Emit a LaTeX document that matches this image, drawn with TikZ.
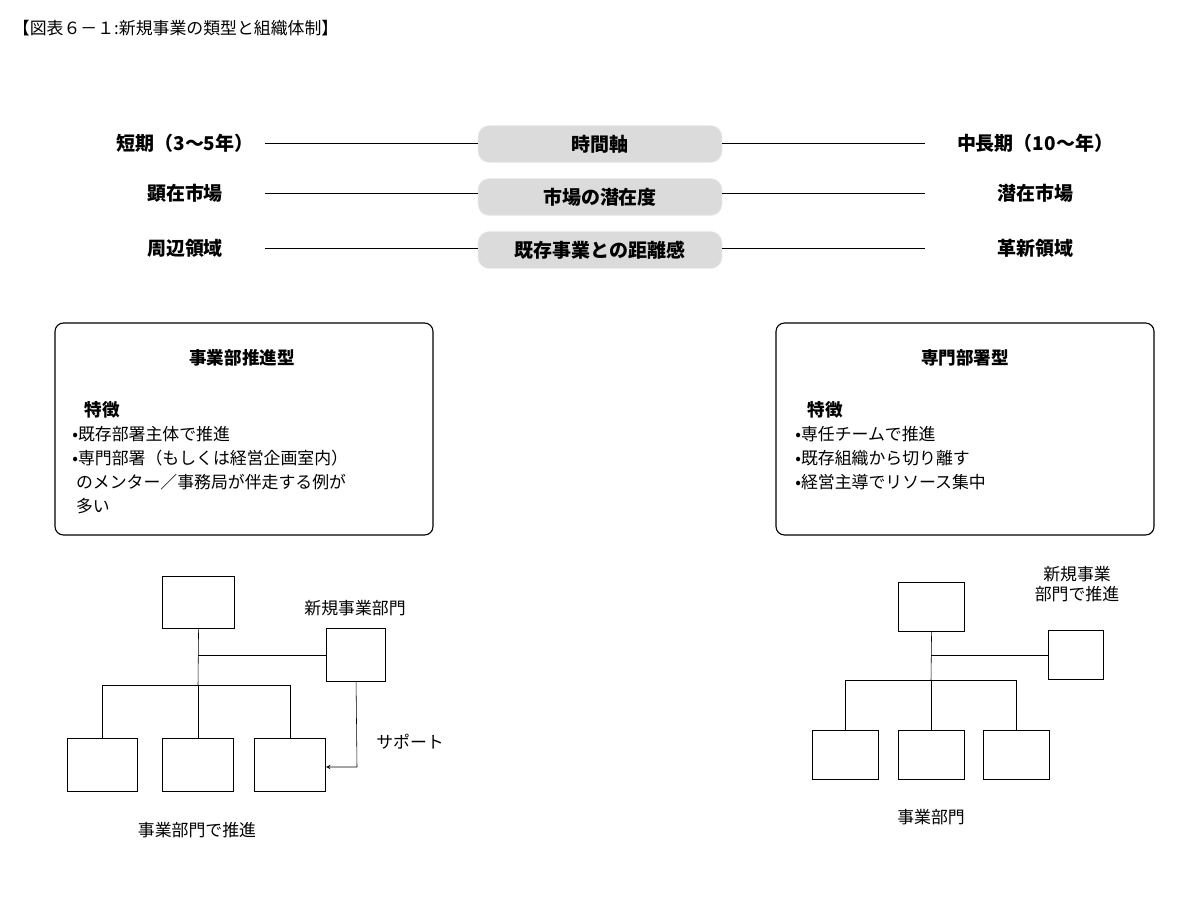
\documentclass[tikz,border=0pt]{standalone}
\usepackage{fontspec}
\setmainfont{Noto Sans CJK JP}
\begin{document}
\begin{tikzpicture}[x=0.025cm,y=-0.025cm,
  lbl/.style={font=\fontsize{13.5}{16}\selectfont\bfseries},
  txt/.style={font=\fontsize{12}{14}\selectfont},
  pill/.style={fill=gray!28,draw=gray!15,rounded corners=8pt,minimum width=244*0.025cm,minimum height=37*0.025cm,font=\fontsize{13.5}{16}\selectfont\bfseries},
  rb/.style={draw,thick,rounded corners=6pt},
  ob/.style={draw,thick,inner sep=0,anchor=north west},
  ln/.style={draw,line width=0.6pt}]
\useasboundingbox (0,0) rectangle (1200,900);
\node[anchor=west,txt] (title) at (8,28) {【図表６－１:新規事業の類型と組織体制】};
% rows
\node[lbl] (l1) at (185,143) {短期（3～5年）};
\node[pill] (p1) at (600,144) {時間軸};
\node[lbl] (r1) at (1035,143) {中長期（10～年）};
\node[lbl] (l2) at (185,193) {顕在市場};
\node[pill] (p2) at (600,197) {市場の潜在度};
\node[lbl] (r2) at (1035,193) {潜在市場};
\node[lbl] (l3) at (185,248) {周辺領域};
\node[pill] (p3) at (600,250) {既存事業との距離感};
\node[lbl] (r3) at (1035,248) {革新領域};
\foreach \y/\p in {143/p1,193/p2,248/p3}{
  \coordinate (a) at (265,\y); \coordinate (b) at (925,\y);
  \draw[ln] (a) -- (\p.west|-a); \draw[ln] (\p.east|-b) -- (b);}
% boxes
\draw[rb] (55,323) rectangle (433,535);
\draw[rb] (776,323) rectangle (1154,535);
\node[lbl,font=\fontsize{12.5}{15}\selectfont\bfseries] (t1) at (242,358) {事業部推進型};
\node[lbl,font=\fontsize{12.5}{15}\selectfont\bfseries] (t2) at (965,358) {専門部署型};
\node[anchor=west,font=\fontsize{12.5}{15}\selectfont\bfseries] (f1) at (80,410) {特徴};
\node[anchor=west,font=\fontsize{12.5}{15}\selectfont\bfseries] (f2) at (803,410) {特徴};
\node[anchor=north west,txt,align=left,inner sep=0] (b1) at (72,426) {•既存部署主体で推進\\[3pt]•専門部署（もしくは経営企画室内）\\[3pt]\ のメンター／事務局が伴走する例が\\[3pt]\ 多い};
\node[anchor=north west,txt,align=left,inner sep=0] (b2) at (795,426) {•専任チームで推進\\[3pt]•既存組織から切り離す\\[3pt]•経営主導でリソース集中};
% left org
\node[ob,minimum width=72*0.025cm,minimum height=52*0.025cm] (lt) at (162,576) {};
\node[ob,minimum width=59*0.025cm,minimum height=53*0.025cm] (ln) at (326,628) {};
\node[ob,minimum width=70*0.025cm,minimum height=53*0.025cm] (lb1) at (67,738) {};
\node[ob,minimum width=71*0.025cm,minimum height=53*0.025cm] (lb2) at (162,738) {};
\node[ob,minimum width=71*0.025cm,minimum height=53*0.025cm] (lb3) at (254,738) {};
\coordinate (lj) at (198,685);
\draw (lt.south) -- (lj);
\draw (198,655) -- (ln.west|-0,655);
\draw (lb1.north) |- (lj) -| (lb3.north);
\draw (lb2.north) -- (lb2.north|-lj);
\coordinate (sc) at (357,767);
\draw[-stealth] (ln.south) -- (sc) -- (lb3.east|-sc);
\node[txt] (nl) at (355,608) {新規事業部門};
\node[txt] (sp) at (410,742) {サポート};
\node[txt] (el) at (197,830) {事業部門で推進};
% right org
\node[ob,minimum width=66*0.025cm,minimum height=49*0.025cm] (rt) at (898,582) {};
\node[ob,minimum width=55*0.025cm,minimum height=49*0.025cm] (rn) at (1048,630) {};
\node[ob,minimum width=66*0.025cm,minimum height=49*0.025cm] (rb1) at (812,730) {};
\node[ob,minimum width=66*0.025cm,minimum height=49*0.025cm] (rb2) at (898,730) {};
\node[ob,minimum width=66*0.025cm,minimum height=49*0.025cm] (rb3) at (983,730) {};
\coordinate (rj) at (931,680);
\draw (rt.south) -- (rj);
\draw (931,655) -- (rn.west|-0,655);
\draw (rb1.north) |- (rj) -| (rb3.north);
\draw (rb2.north) -- (rb2.north|-rj);
\node[txt,align=center] (nr) at (1077,584) {新規事業\\部門で推進};
\node[txt] (er) at (931,817) {事業部門};
\end{tikzpicture}
\end{document}
